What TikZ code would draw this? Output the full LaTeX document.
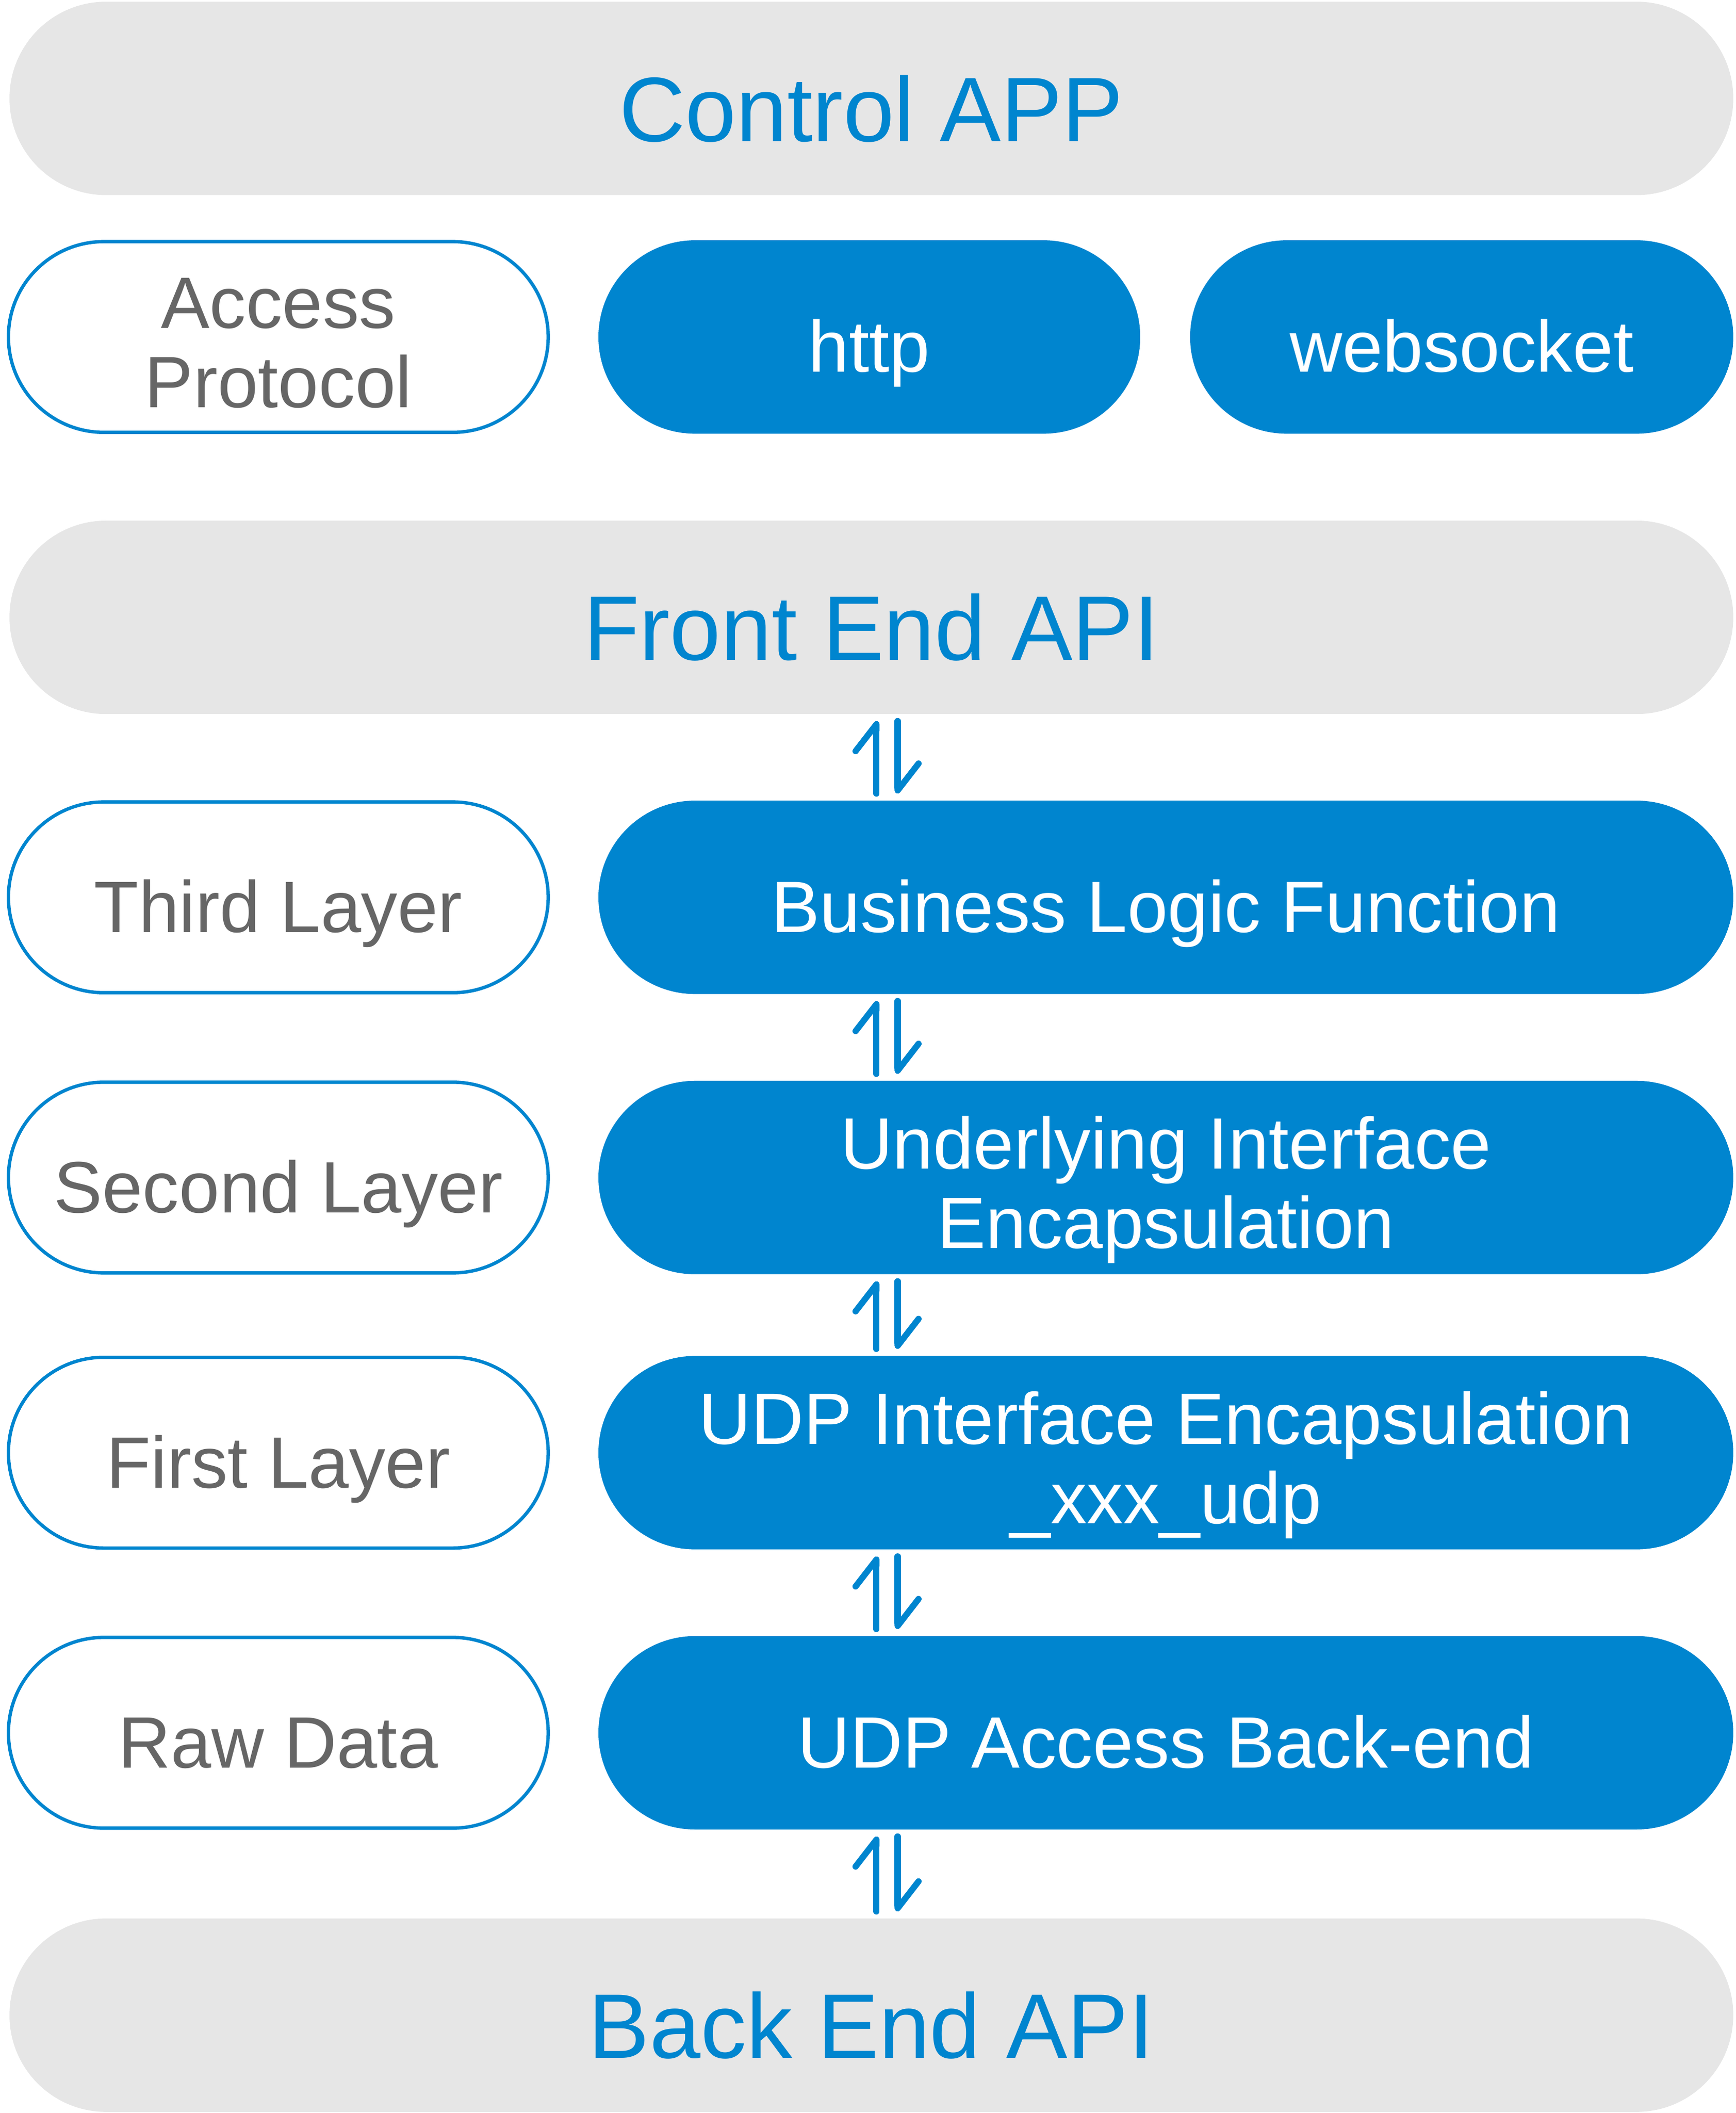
\documentclass[tikz,border=0pt]{standalone}
\usepackage{fontspec}
\setmainfont{Liberation Sans}
\usetikzlibrary{shapes.misc, arrows.meta, calc}
\definecolor{appblue}{RGB}{0,133,207}
\definecolor{bargray}{RGB}{230,230,230}
\definecolor{labelgray}{RGB}{102,102,102}
\tikzstyle{bar} = [rounded rectangle, fill=bargray, text=appblue, minimum width=1279pt, minimum height=143.5pt, inner sep=0pt, font=\fontsize{68}{75}\selectfont, text height=63.6pt, text depth=0pt]
\tikzstyle{layer} = [rounded rectangle, draw=appblue, line width=2.5pt, fill=white, text=labelgray, minimum width=400.5pt, minimum height=141.5pt, inner sep=0pt, font=\fontsize{54}{59}\selectfont, text height=52pt, text depth=0pt, align=center]
\tikzstyle{block} = [rounded rectangle, fill=appblue, text=white, minimum height=143.5pt, inner sep=0pt, font=\fontsize{54}{59}\selectfont, text height=52pt, text depth=0pt, align=center]
\tikzstyle{twolines} = [text height=105pt]
\tikzstyle{harp} = [appblue, line width=4.6pt, line cap=round, line join=round, -{Straight Barb[harpoon, round, length=20pt, width=31pt]}, shorten <=5pt, shorten >=5pt]

\begin{document}
\begin{tikzpicture}[x=1pt, y=-1pt]
        \useasboundingbox (0,0) rectangle (1288,1567.6);

        \node at (646.5,73) [bar] (ctrl) {Control APP};

        \node at (206.5,250) [layer, twolines] (access) {Access\\Protocol};
        \node at (645,250) [block, minimum width=402pt] (http) {http};
        \node at (1084.5,250) [block, minimum width=403pt] (ws) {websocket};

        \node at (646.5,458) [bar] (fe) {Front End API};

        \node at (206.5,665.7) [layer] (third) {Third Layer};
        \node at (865,665.7) [block, minimum width=842pt] (blf) {Business Logic Function};

        \node at (206.5,873.6) [layer] (second) {Second Layer};
        \node at (865,873.6) [block, minimum width=842pt, twolines] (uie) {Underlying Interface\\Encapsulation};

        \node at (206.5,1077.7) [layer] (first) {First Layer};
        \node at (865,1077.7) [block, minimum width=842pt, twolines] (udpie) {UDP Interface Encapsulation\\\_xxx\_udp};

        \node at (206.5,1285.5) [layer] (raw) {Raw Data};
        \node at (865,1285.5) [block, minimum width=842pt] (uab) {UDP Access Back-end};

        \node at (646.5,1495) [bar] (be) {Back End API};

        \foreach \up/\down in {fe/blf, blf/uie, uie/udpie, udpie/uab, uab/be} {
            \draw[harp] ([xshift=3.8pt]fe.center |- \down.north) -- ([xshift=3.8pt]fe.center |- \up.south);
            \draw[harp] ([xshift=19.5pt]fe.center |- \up.south) -- ([xshift=19.5pt]fe.center |- \down.north);
        }

    \end{tikzpicture}
\end{document}
